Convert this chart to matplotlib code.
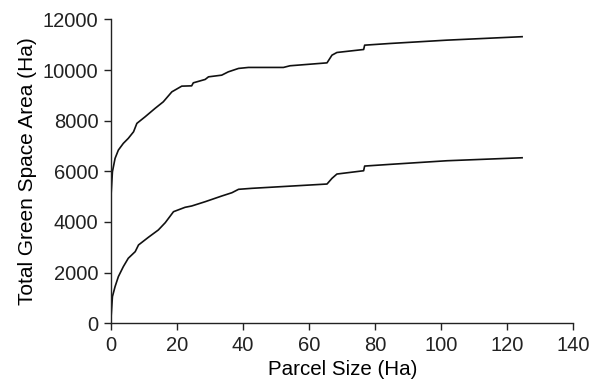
import matplotlib
matplotlib.use("Agg")
import matplotlib.pyplot as plt

plt.rcParams["font.family"] = ["Liberation Sans", "DejaVu Sans"]

# upper curve: all parcels
upper_x = [0, 0, 0.4, 1.2, 2.2, 3.7, 5.2, 6.8, 7.8, 10.3, 13.3, 15.8, 18.4, 21.4,
           24.4, 24.9, 28.5, 29.5, 33.5, 35.5, 38.6, 41.6, 52.2, 54.2, 65.4,
           66.9, 68.4, 76.5, 76.8, 84.5, 101.7, 124.5]
upper_y = [0, 5100, 5985, 6512, 6840, 7105, 7302, 7563, 7894, 8155, 8486, 8746,
           9141, 9366, 9378, 9497, 9631, 9734, 9800, 9931, 10066, 10105, 10105,
           10171, 10286, 10590, 10696, 10814, 10985, 11052, 11183, 11320]

# lower curve
lower_x = [0, 0, 0.4, 1.2, 2.2, 3.7, 5.2, 7.3, 8.3, 11.3, 14.3, 16.4, 18.9, 22.4,
           24.4, 28.5, 33.5, 36.6, 38.6, 42.6, 65.4, 66.9, 68.4, 76.5, 76.8,
           84.5, 101.7, 124.5]
lower_y = [0, 260, 1050, 1445, 1840, 2234, 2565, 2826, 3090, 3394, 3682, 3971,
           4405, 4578, 4630, 4800, 5024, 5155, 5289, 5328, 5498, 5722, 5893,
           6023, 6208, 6275, 6418, 6536]

x_ticks = [0, 20, 40, 60, 80, 100, 120, 140]
y_ticks = [0, 2000, 4000, 6000, 8000, 10000, 12000]

fig = plt.figure(figsize=(5.91, 3.82), dpi=100)
ax = fig.add_axes([0.188, 0.154, 0.782, 0.795])

ax.plot(upper_x, upper_y, color="#111111", linewidth=1.2)
ax.plot(lower_x, lower_y, color="#111111", linewidth=1.2)

ax.set_xlim(0, 140)
ax.set_ylim(0, 12000)
ax.set_xticks(x_ticks)
ax.set_yticks(y_ticks)

for side in ["top", "right"]:
    ax.spines[side].set_visible(False)
for side in ["left", "bottom"]:
    ax.spines[side].set_linewidth(1.0)
    ax.spines[side].set_color("#222222")

ax.tick_params(direction="out", length=5, width=1, labelsize=14.5,
               colors="#222222", pad=4)
ax.set_xlabel("Parcel Size (Ha)", fontsize=14.8, labelpad=4)
ax.set_ylabel("Total Green Space Area (Ha)", fontsize=15, labelpad=4)

fig.savefig("out.png", dpi=100)
